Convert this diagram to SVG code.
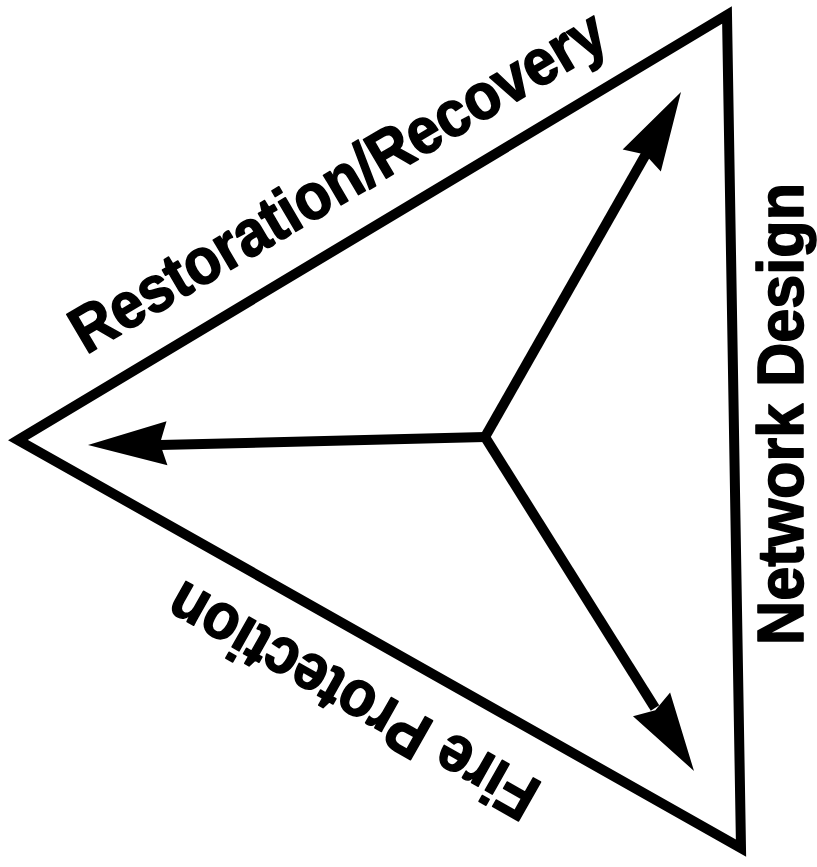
<svg xmlns="http://www.w3.org/2000/svg" xmlns:xlink="http://www.w3.org/1999/xlink" width="817" height="867" viewBox="0 0 817 867">
  <style>
    .frame { fill: none; stroke: #000; stroke-width: 10; stroke-linejoin: miter; stroke-miterlimit: 10; }
    .spoke { fill: none; stroke: #000; stroke-width: 10; stroke-linecap: butt; }
    .head { fill: #000; stroke: none; }
    .label { font-family: "Liberation Sans", Arial, Helvetica, sans-serif; font-weight: bold; font-size: 65px; fill: #000; stroke: #000; stroke-width: 1.6; stroke-linejoin: round; }
  </style>
  <defs>
    <!-- arrowhead pointing along +x, tip at the origin -->
    <path id="arrowhead" class="head" d="M0,0 L-79,-22 L-72,0 L-79,22 Z"/>
  </defs>

  <rect width="817" height="867" fill="#fff"/>

  <g id="triangle">
    <polygon class="frame" points="18,440 727,15 741,848"/>
  </g>

  <g id="connectors">
    <line class="spoke" x1="485" y1="437" x2="160" y2="445"/>
    <line class="spoke" x1="485" y1="437" x2="646" y2="154"/>
    <line class="spoke" x1="485" y1="437" x2="655" y2="708"/>
    <use xlink:href="#arrowhead" transform="translate(88,445) rotate(178.8)"/>
    <use xlink:href="#arrowhead" transform="translate(681,92) rotate(-60.2)"/>
    <use xlink:href="#arrowhead" transform="translate(694,771) rotate(57.5)"/>
  </g>

  <g id="restoration-recovery">
    <text class="label" transform="translate(86,355) rotate(-30.5)" textLength="610" lengthAdjust="spacingAndGlyphs">Restoration/Recovery</text>
  </g>

  <g id="network-design">
    <text class="label" transform="translate(803,645) rotate(-90)" textLength="462" lengthAdjust="spacingAndGlyphs">Network Design</text>
  </g>

  <g id="fire-protection">
    <text class="label" transform="translate(544,784) rotate(209.5)" textLength="415" lengthAdjust="spacingAndGlyphs">Fire Protection</text>
  </g>
</svg>
